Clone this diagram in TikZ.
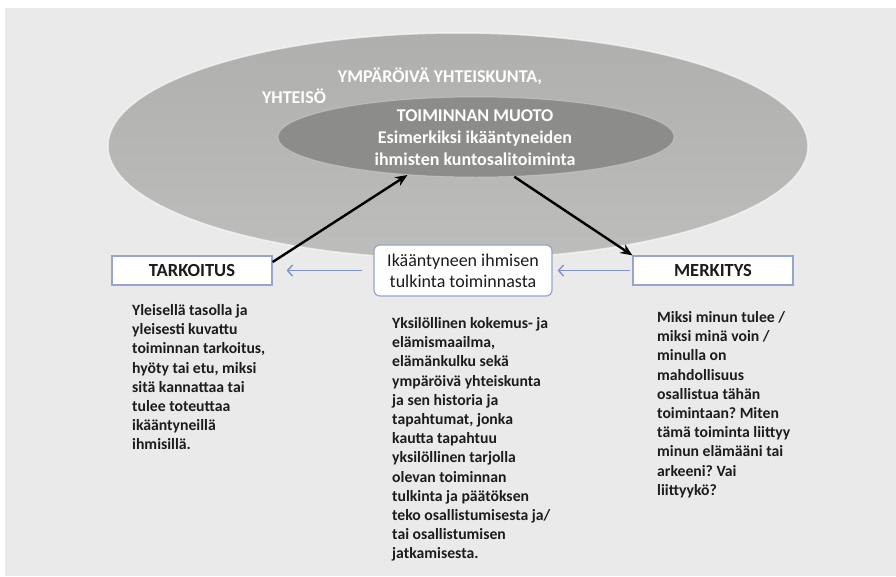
\documentclass[tikz,border=0pt]{standalone}
\usepackage{fontspec}
\setmainfont{Carlito}
\frenchspacing
\usetikzlibrary{shapes.geometric,arrows.meta}
\definecolor{panel}{HTML}{EAEAEA}
\definecolor{outertop}{HTML}{AFAFAD}
\definecolor{outerbot}{HTML}{BDBDBB}
\definecolor{innerfill}{HTML}{8C8C8A}
\definecolor{boxline}{HTML}{97A5CC}
\definecolor{bluearr}{HTML}{7F93C6}
\definecolor{bodytext}{HTML}{1C1C1C}
\begin{document}
\begin{tikzpicture}[x=1pt,y=-1pt,
  outerell/.style={ellipse, minimum width=700pt, minimum height=226pt, inner sep=0pt,
    top color=outertop, bottom color=outerbot, draw=white, draw opacity=0.6, line width=1.5pt},
  innerell/.style={ellipse, minimum width=396pt, minimum height=80pt, inner sep=0pt,
    fill=innerfill, draw=white, draw opacity=0.25, line width=1pt},
  whitetxt/.style={text=white, font=\bfseries\fontsize{18}{22}\selectfont, inner sep=0pt, align=center},
  labelbox/.style={draw=boxline, line width=1.2pt, fill=white, minimum width=160pt, minimum height=29pt,
    inner sep=0pt, text=bodytext, font=\bfseries\fontsize{18.5}{22}\selectfont},
  centerbox/.style={draw=boxline, line width=1.2pt, fill=white, rounded corners=6pt,
    minimum width=178pt, minimum height=51pt, inner sep=0pt, align=center,
    text=bodytext, font=\fontsize{18}{21}\selectfont},
  bodytxt/.style={anchor=base west, align=left, inner sep=0pt, text=bodytext,
    font=\bfseries\fontsize{15.7}{19.2}\selectfont},
  blackarrow/.style={line width=2.4pt, -{Stealth[length=12pt,width=10pt]}},
  bluearrow/.style={draw=bluearr, line width=1.4pt, -{Straight Barb[length=5pt,width=11pt]}}
]
\useasboundingbox (0,0) rectangle (896,576);
\fill[white] (0,0) rectangle (896,576);
\fill[panel] (5,8) rectangle (896,576);

\node[outerell] (outer) at (458,146) {};
\node[whitetxt] (ympa) at (440,76) {YMPÄRÖIVÄ YHTEISKUNTA,};
\node[whitetxt] (yht) at (294,96) {YHTEISÖ};
\node[innerell] (inner) at (476,137) {};
\node[whitetxt] (innertext) at (475,138) {TOIMINNAN MUOTO\\Esimerkiksi ikääntyneiden\\ihmisten kuntosalitoiminta};

\node[labelbox] (tark) at (192,270.5) {TARKOITUS};
\node[labelbox] (merk) at (713,270.5) {MERKITYS};
\node[centerbox] (cbox) at (463,270.5) {Ikääntyneen ihmisen\\tulkinta toiminnasta};

\draw[blackarrow] (tark.6) -- (inner.209);
\draw[blackarrow] (inner.-46) -- (merk.north west);
\draw[bluearrow, shorten <=11pt, shorten >=14pt] (cbox.west) -- (tark.east);
\draw[bluearrow, shorten <=2pt, shorten >=5pt] (merk.west) -- (cbox.east);

\node[bodytxt] (ltext) at (132,449.9) {Yleisellä tasolla ja\\yleisesti kuvattu\\toiminnan tarkoitus,\\hyöty tai etu, miksi\\sitä kannattaa tai\\tulee toteuttaa\\ikääntyneillä\\ihmisillä.};
\node[bodytxt] (ctext) at (392,558.9) {Yksilöllinen kokemus- ja\\elämismaailma,\\elämänkulku sekä\\ympäröivä yhteiskunta\\ja sen historia ja\\tapahtumat, jonka\\kautta tapahtuu\\yksilöllinen tarjolla\\olevan toiminnan\\tulkinta ja päätöksen\\teko osallistumisesta ja/\\tai osallistumisen\\jatkamisesta.};
\node[bodytxt] (rtext) at (657,495.3) {Miksi minun tulee /\\miksi minä voin /\\minulla on\\mahdollisuus\\osallistua tähän\\toimintaan? Miten\\tämä toiminta liittyy\\minun elämääni tai\\arkeeni? Vai\\liittyykö?};
\end{tikzpicture}
\end{document}
